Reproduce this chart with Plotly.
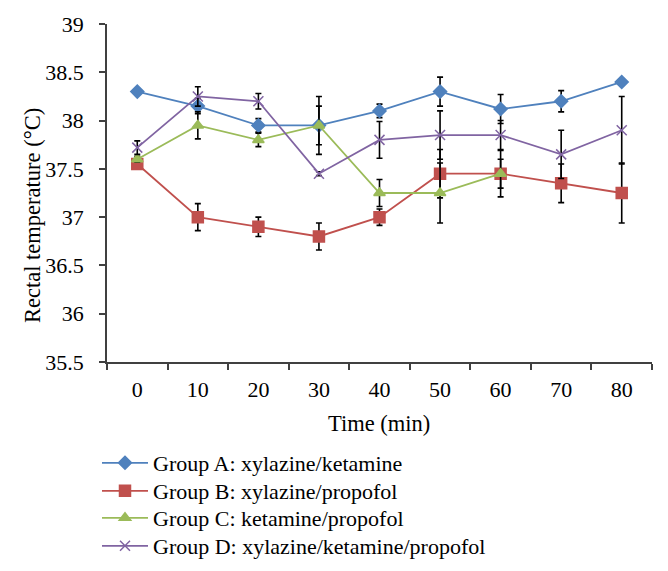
import plotly.graph_objects as go

times = ["0", "10", "20", "30", "40", "50", "60", "70", "80"]

group_a = [38.30, 38.15, 37.95, 37.95, 38.10, 38.30, 38.12, 38.20, 38.40]
group_a_err = [0.02, 0.08, 0.07, 0.20, 0.07, 0.15, 0.15, 0.11, 0.03]

group_b = [37.55, 37.00, 36.90, 36.80, 37.00, 37.45, 37.45, 37.35, 37.25]
group_b_err = [0.03, 0.14, 0.10, 0.14, 0.085, 0.25, 0.15, 0.20, 0.31]

times_c = ["0", "10", "20", "30", "40", "50", "60"]
group_c = [37.60, 37.95, 37.80, 37.95, 37.25, 37.25, 37.45]
group_c_err = [0.03, 0.14, 0.07, 0.30, 0.14, 0.31, 0.24]

group_d = [37.72, 38.25, 38.20, 37.45, 37.80, 37.85, 37.85, 37.65, 37.90]
group_d_err = [0.07, 0.10, 0.08, 0.02, 0.19, 0.25, 0.15, 0.25, 0.35]

names = [
    "Group A: xylazine/ketamine",
    "Group B: xylazine/propofol",
    "Group C: ketamine/propofol",
    "Group D: xylazine/ketamine/propofol",
]

FONT = "Liberation Serif"
# page has an 8px body margin, so the figure is drawn 8px smaller and shifted
W, H = 660, 563
L, R, T, B = 99, 16, 16, 209
pw = W - L - R
ph = H - T - B

series = [
    (times, group_a, group_a_err, "#4F81BD", "diamond", 10),
    (times, group_b, group_b_err, "#C0504D", "square", 11),
    (times_c, group_c, group_c_err, "#9BBB59", "triangle-up", 10),
    (times, group_d, group_d_err, "#8064A2", "x-thin-open", 10),
]
legend_ids = ["legend", "legend2", "legend3", "legend4"]
row_centers = [455, 483, 510, 538]  # figure px

fig = go.Figure()
for i, (xs, ys, es, col, sym, sz) in enumerate(series):
    fig.add_trace(go.Scatter(
        x=xs, y=ys, name=names[i], mode="lines+markers",
        legend=legend_ids[i],
        line=dict(color=col, width=1.8),
        marker=dict(symbol=sym, size=sz, color=col,
                    line=dict(color=col, width=1.5)),
        error_y=dict(type="data", array=es, visible=True,
                     color="black", thickness=1.6, width=3),
    ))

legend_common = dict(
    xref="container", yref="container",
    x=89 / W, xanchor="left", yanchor="middle",
    font=dict(family=FONT, size=22, color="black"),
    itemwidth=46, bgcolor="rgba(0,0,0,0)",
)
layout_legends = {}
for lid, yc in zip(legend_ids, row_centers):
    d = dict(legend_common)
    d["y"] = 1 - yc / H
    layout_legends[lid] = d

fig.update_layout(
    width=W, height=H, autosize=False,
    margin=dict(l=L, r=R, t=T, b=B, autoexpand=False),
    paper_bgcolor="white", plot_bgcolor="white",
    font=dict(family=FONT, size=22, color="black"),
    showlegend=True,
    xaxis=dict(
        type="category", categoryorder="array", categoryarray=times,
        tickson="boundaries", ticks="outside", ticklen=6,
        tickcolor="#404040", tickwidth=1.5,
        showline=True, linecolor="#404040", linewidth=1.5,
        showgrid=False, zeroline=False,
        tickfont=dict(family=FONT, size=22, color="black"),
        ticklabelstandoff=7,
        range=[-0.5, 8.5],
    ),
    yaxis=dict(
        range=[35.5, 39], dtick=0.5, tick0=35.5,
        ticks="outside", ticklen=6, tickcolor="#404040", tickwidth=1.5,
        showline=True, linecolor="#404040", linewidth=1.5,
        showgrid=False, zeroline=False,
        tickfont=dict(family=FONT, size=22, color="black"),
        ticklabelstandoff=11,
    ),
    annotations=[
        dict(text="Rectal temperature (°C)", textangle=-90,
             xref="paper", yref="paper",
             x=(24 - L) / pw, y=(T + ph - 208) / ph,
             xanchor="center", yanchor="middle", showarrow=False,
             font=dict(family=FONT, size=22.5, color="black")),
        dict(text="Time (min)",
             xref="paper", yref="paper",
             x=(371 - L) / pw, y=-(415 - (T + ph)) / ph,
             xanchor="center", yanchor="middle", showarrow=False,
             font=dict(family=FONT, size=22.5, color="black")),
    ],
    **layout_legends,
)

fig.write_html("out.html")
